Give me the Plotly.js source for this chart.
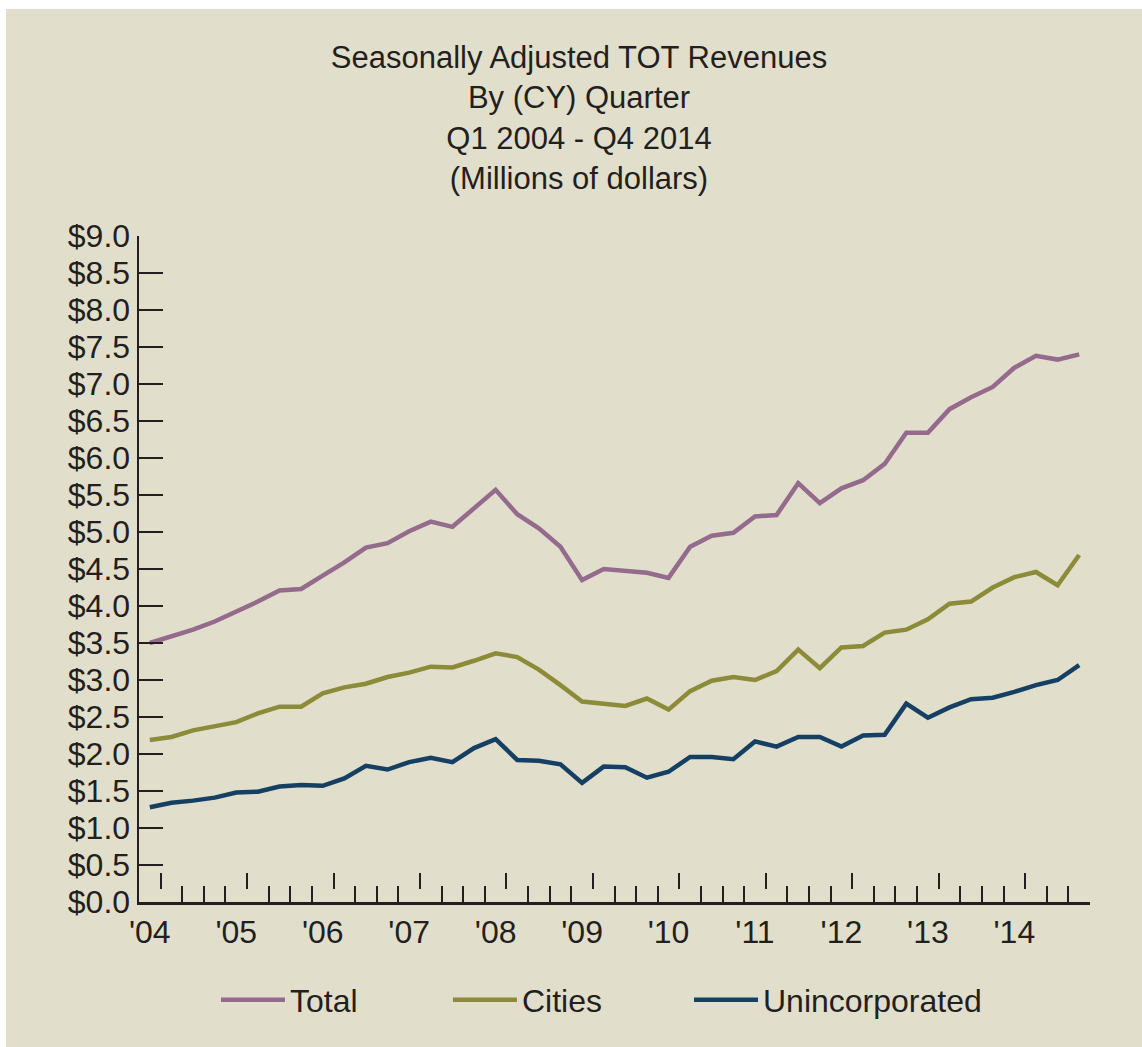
<!DOCTYPE html>
<html>
<head>
<meta charset="utf-8">
<script src="https://cdn.plot.ly/plotly-3.0.1.min.js"></script>
<style>
  body { margin: 0; background: #ffffff; }
  #chart { position: absolute; left: 6px; top: 9px; width: 1136px; height: 1038px; }
</style>
</head>
<body>
<div id="chart"></div>
<script>
// quarters Q1 2004 .. Q4 2014
const years = ['2004','2005','2006','2007','2008','2009','2010','2011','2012','2013','2014'];
const yearLabels = ["'04","'05","'06","'07","'08","'09","'10","'11","'12","'13","'14"];

// seasonally adjusted TOT revenues, millions of dollars
const total = [3.50, 3.59, 3.68, 3.79, 3.92, 4.06, 4.21, 4.23, 4.41, 4.59,
               4.79, 4.85, 5.01, 5.14, 5.07, 5.33, 5.57, 5.24, 5.05, 4.80,
               4.35, 4.50, 4.48, 4.45, 4.38, 4.80, 4.95, 4.99, 5.21, 5.23,
               5.66, 5.39, 5.59, 5.70, 5.92, 6.34, 6.34, 6.66, 6.82, 6.96,
               7.22, 7.38, 7.33, 7.40];
const cities = [2.19, 2.23, 2.32, 2.38, 2.43, 2.55, 2.64, 2.64, 2.82, 2.90,
                2.95, 3.04, 3.10, 3.18, 3.17, 3.26, 3.36, 3.31, 3.14, 2.93,
                2.71, 2.68, 2.65, 2.75, 2.60, 2.85, 2.99, 3.04, 3.00, 3.12,
                3.41, 3.16, 3.44, 3.46, 3.64, 3.68, 3.82, 4.03, 4.06, 4.25,
                4.39, 4.46, 4.28, 4.69];
const unincorporated = [1.28, 1.34, 1.37, 1.41, 1.48, 1.49, 1.56, 1.58, 1.57, 1.67,
                        1.84, 1.79, 1.89, 1.95, 1.89, 2.08, 2.20, 1.92, 1.91, 1.86,
                        1.61, 1.83, 1.82, 1.68, 1.76, 1.96, 1.96, 1.93, 2.17, 2.10,
                        2.23, 2.23, 2.10, 2.25, 2.26, 2.68, 2.49, 2.63, 2.74, 2.76,
                        2.84, 2.93, 3.00, 3.20];

// x = quarter index
const quarters = [];
years.forEach(y => ['Q1','Q2','Q3','Q4'].forEach(q => quarters.push(q + ' ' + y)));
const xi = quarters.map((q, i) => i);

// tick positions sit between quarters
const yearTicks = [];
const quarterTicks = [];
for (let i = 0; i < quarters.length; i++) {
    if (i % 4 === 0) yearTicks.push(i + 0.5);
    else quarterTicks.push(i + 0.5);
}
const labelVals = yearLabels.map((l, k) => k * 4);

const ink = '#231f20';
const bg = '#e1dfcc';
const font = 'Liberation Sans, Arial, sans-serif';

const data = [
    {x: xi, y: total, text: quarters, name: 'Total', type: 'scatter', mode: 'lines',
     line: {color: '#946a8d', width: 4.5}, legend: 'legend'},
    {x: xi, y: cities, text: quarters, name: 'Cities', type: 'scatter', mode: 'lines',
     line: {color: '#8b8b38', width: 4.5}, legend: 'legend2'},
    {x: xi, y: unincorporated, text: quarters, name: 'Unincorporated', type: 'scatter', mode: 'lines',
     line: {color: '#153f63', width: 4.5}, legend: 'legend3'},
    // carriers for the two tick-only axes
    {x: [0], y: [null], xaxis: 'x2', showlegend: false, hoverinfo: 'skip'},
    {x: [0], y: [null], xaxis: 'x3', showlegend: false, hoverinfo: 'skip'}
];

// one legend per series, laid out in a row under the axis
function legendAt(x) {
    return {
        orientation: 'h',
        x: x, xanchor: 'left',
        y: -98 / 666, yanchor: 'middle',
        bgcolor: 'rgba(0,0,0,0)',
        font: {size: 32, color: ink},
        itemwidth: 64
    };
}

const layout = {
    width: 1136,
    height: 1038,
    paper_bgcolor: bg,
    plot_bgcolor: bg,
    font: {family: font, color: ink, size: 32},
    margin: {l: 133, r: 52, t: 227, b: 145},
    title: {
        text: 'Seasonally Adjusted TOT Revenues<br>By (CY) Quarter<br>Q1 2004 - Q4 2014<br>(Millions of dollars)',
        font: {size: 31, color: ink},
        x: 0.5044, xanchor: 'center',
        y: 1 - 59 / 1038, yanchor: 'top', yref: 'container'
    },
    xaxis: {
        range: [-0.5, 43.5],
        tickvals: labelVals,
        ticktext: yearLabels,
        ticks: '',
        showgrid: false, zeroline: false,
        showline: true, linecolor: ink, linewidth: 2.5,
        tickfont: {size: 32, color: ink},
        ticklabelstandoff: 0,
        fixedrange: true
    },
    xaxis2: {
        overlaying: 'x', anchor: 'y', side: 'bottom',
        range: [-0.5, 43.5],
        tickvals: quarterTicks,
        ticks: 'inside', ticklen: 16, tickwidth: 2, tickcolor: ink,
        showticklabels: false, showgrid: false, zeroline: false, showline: false
    },
    xaxis3: {
        overlaying: 'x', anchor: 'free', position: 13 / 666, side: 'bottom',
        range: [-0.5, 43.5],
        tickvals: yearTicks,
        ticks: 'inside', ticklen: 16, tickwidth: 2, tickcolor: ink,
        showticklabels: false, showgrid: false, zeroline: false, showline: false
    },
    yaxis: {
        range: [0, 9],
        dtick: 0.5, tick0: 0,
        tickprefix: '$', tickformat: '.1f',
        ticks: 'inside', ticklen: 24, tickwidth: 2, tickcolor: ink,
        showgrid: false, zeroline: false,
        showline: true, linecolor: ink, linewidth: 2.5,
        tickfont: {size: 32, color: ink},
        ticklabelstandoff: 0,
        fixedrange: true
    },
    showlegend: true,
    legend: legendAt((222 - 145) / 951),
    legend2: legendAt((454 - 145) / 951),
    legend3: legendAt((695 - 145) / 951)
};

Plotly.newPlot('chart', data, layout, {displayModeBar: false, staticPlot: true});
</script>
</body>
</html>
